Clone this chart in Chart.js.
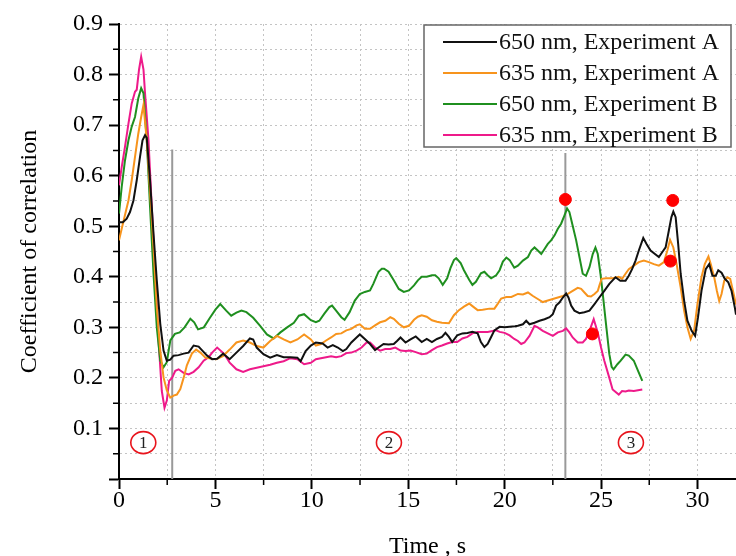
<!DOCTYPE html>
<html>
<head>
<meta charset="utf-8">
<script src="https://cdn.jsdelivr.net/npm/chart.js@4.4.0/dist/chart.umd.min.js"></script>
<style>
  html, body { margin: 0; padding: 0; background: #fff; }
  #wrap { width: 736px; height: 556px; }
</style>
</head>
<body>
<div id="wrap"><canvas id="corrChart" width="736" height="556"></canvas></div>
<script>
// ================== DATA (time s, coefficient) ==================
const series650A = [[0,0.508],[0.2,0.508],[0.4,0.515],[0.57,0.528],[0.75,0.551],[0.92,0.591],[1.09,0.637],[1.22,0.67],[1.35,0.68],[1.44,0.675],[1.61,0.591],[1.79,0.485],[1.96,0.393],[2.14,0.307],[2.31,0.254],[2.48,0.234],[2.66,0.236],[2.83,0.244],[3.09,0.245],[3.35,0.248],[3.61,0.25],[3.87,0.264],[4.13,0.262],[4.3,0.255],[4.57,0.244],[4.83,0.237],[5.09,0.238],[5.4,0.248],[5.74,0.237],[6.09,0.25],[6.44,0.263],[6.79,0.278],[6.96,0.276],[7.14,0.26],[7.49,0.247],[7.84,0.24],[8.19,0.245],[8.54,0.241],[8.89,0.241],[9.25,0.24],[9.42,0.233],[9.68,0.253],[9.95,0.264],[10.21,0.27],[10.56,0.268],[10.82,0.26],[11.09,0.265],[11.35,0.26],[11.61,0.253],[11.79,0.257],[12.05,0.27],[12.32,0.28],[12.49,0.286],[12.75,0.277],[13.02,0.267],[13.28,0.255],[13.46,0.26],[13.72,0.267],[13.98,0.266],[14.25,0.267],[14.42,0.273],[14.6,0.28],[14.86,0.27],[15.12,0.276],[15.39,0.282],[15.7,0.271],[15.96,0.277],[16.23,0.271],[16.49,0.277],[16.75,0.281],[16.93,0.289],[17.11,0.281],[17.28,0.271],[17.54,0.284],[17.81,0.288],[18.07,0.289],[18.33,0.291],[18.6,0.288],[18.77,0.271],[18.95,0.261],[19.12,0.267],[19.3,0.281],[19.47,0.294],[19.74,0.301],[20.0,0.3],[20.26,0.301],[20.54,0.302],[20.69,0.303],[20.95,0.306],[21.12,0.313],[21.29,0.306],[21.55,0.309],[21.81,0.313],[22.07,0.316],[22.33,0.32],[22.5,0.326],[22.67,0.343],[22.84,0.349],[23.02,0.359],[23.19,0.367],[23.31,0.359],[23.45,0.343],[23.62,0.333],[23.88,0.328],[24.14,0.33],[24.4,0.333],[24.66,0.346],[24.91,0.359],[25.17,0.372],[25.43,0.386],[25.6,0.393],[25.75,0.399],[26.0,0.392],[26.27,0.392],[26.44,0.402],[26.61,0.415],[26.79,0.432],[26.96,0.452],[27.19,0.477],[27.36,0.465],[27.57,0.452],[27.83,0.444],[28.0,0.439],[28.18,0.449],[28.35,0.458],[28.52,0.492],[28.65,0.518],[28.75,0.529],[28.87,0.518],[29.0,0.465],[29.13,0.406],[29.31,0.353],[29.48,0.313],[29.7,0.293],[29.88,0.283],[30.03,0.32],[30.21,0.372],[30.43,0.415],[30.61,0.425],[30.78,0.402],[30.95,0.402],[31.08,0.413],[31.25,0.408],[31.42,0.396],[31.6,0.389],[31.77,0.372],[31.94,0.339],[32.0,0.325]];

const series635A = [[0,0.472],[0.14,0.495],[0.31,0.522],[0.49,0.551],[0.66,0.591],[0.83,0.637],[1.0,0.683],[1.15,0.716],[1.27,0.74],[1.44,0.67],[1.61,0.571],[1.79,0.459],[1.96,0.34],[2.14,0.254],[2.31,0.201],[2.48,0.175],[2.66,0.161],[2.83,0.165],[3.0,0.167],[3.18,0.178],[3.35,0.2],[3.52,0.225],[3.78,0.248],[4.0,0.256],[4.22,0.25],[4.48,0.24],[4.83,0.238],[5.04,0.237],[5.39,0.243],[5.74,0.256],[6.09,0.27],[6.44,0.274],[6.79,0.27],[7.14,0.263],[7.49,0.26],[7.84,0.273],[8.19,0.283],[8.54,0.276],[8.89,0.27],[9.25,0.276],[9.6,0.286],[9.95,0.276],[10.21,0.264],[10.47,0.267],[10.74,0.274],[11.0,0.28],[11.26,0.287],[11.53,0.288],[11.79,0.294],[12.05,0.297],[12.32,0.304],[12.49,0.306],[12.75,0.297],[13.02,0.297],[13.28,0.304],[13.54,0.31],[13.81,0.313],[14.07,0.32],[14.25,0.317],[14.51,0.307],[14.77,0.3],[15.04,0.303],[15.3,0.315],[15.5,0.321],[15.7,0.324],[15.96,0.321],[16.23,0.314],[16.49,0.311],[16.75,0.309],[17.11,0.308],[17.37,0.324],[17.63,0.334],[17.89,0.341],[18.16,0.347],[18.33,0.342],[18.6,0.334],[18.86,0.335],[19.21,0.337],[19.47,0.337],[19.65,0.347],[19.82,0.357],[20.09,0.36],[20.35,0.36],[20.69,0.366],[20.95,0.365],[21.21,0.369],[21.47,0.362],[21.72,0.356],[21.98,0.35],[22.24,0.353],[22.5,0.356],[22.76,0.359],[23.02,0.362],[23.28,0.366],[23.53,0.372],[23.79,0.378],[23.97,0.376],[24.14,0.369],[24.31,0.362],[24.48,0.361],[24.66,0.366],[24.83,0.372],[24.91,0.382],[25.03,0.396],[25.26,0.397],[25.6,0.397],[25.92,0.4],[26.09,0.396],[26.27,0.406],[26.44,0.415],[26.7,0.422],[26.96,0.429],[27.22,0.432],[27.48,0.429],[27.74,0.425],[28.0,0.422],[28.26,0.429],[28.44,0.452],[28.58,0.473],[28.75,0.458],[28.92,0.425],[29.13,0.379],[29.31,0.333],[29.48,0.3],[29.65,0.277],[29.83,0.294],[30.0,0.346],[30.21,0.399],[30.38,0.425],[30.57,0.44],[30.69,0.425],[30.87,0.399],[31.01,0.372],[31.13,0.352],[31.25,0.366],[31.39,0.392],[31.56,0.399],[31.7,0.396],[31.88,0.366],[32.0,0.345]];

const series650B = [[0,0.525],[0.14,0.578],[0.31,0.63],[0.49,0.67],[0.66,0.697],[0.83,0.716],[1.0,0.753],[1.15,0.773],[1.27,0.763],[1.44,0.67],[1.61,0.538],[1.79,0.406],[1.96,0.3],[2.14,0.234],[2.31,0.221],[2.48,0.231],[2.66,0.274],[2.9,0.287],[3.15,0.29],[3.4,0.3],[3.7,0.317],[3.9,0.31],[4.1,0.296],[4.4,0.3],[4.7,0.318],[5.0,0.335],[5.25,0.346],[5.56,0.333],[5.82,0.323],[6.09,0.329],[6.35,0.333],[6.61,0.33],[6.96,0.319],[7.32,0.303],[7.67,0.286],[8.02,0.278],[8.37,0.29],[8.72,0.3],[9.07,0.309],[9.33,0.323],[9.6,0.326],[9.95,0.314],[10.21,0.31],[10.39,0.313],[10.65,0.327],[10.91,0.34],[11.05,0.343],[11.26,0.333],[11.53,0.32],[11.7,0.315],[11.96,0.33],[12.23,0.353],[12.49,0.366],[12.75,0.37],[13.02,0.373],[13.19,0.386],[13.46,0.41],[13.63,0.416],[13.75,0.416],[13.98,0.41],[14.25,0.393],[14.51,0.376],[14.77,0.37],[15.04,0.373],[15.3,0.383],[15.5,0.393],[15.7,0.4],[15.96,0.4],[16.23,0.403],[16.4,0.403],[16.58,0.397],[16.79,0.384],[17.02,0.397],[17.19,0.417],[17.37,0.433],[17.49,0.437],[17.72,0.427],[17.89,0.413],[18.16,0.394],[18.33,0.384],[18.51,0.39],[18.77,0.407],[18.95,0.41],[19.12,0.403],[19.3,0.397],[19.56,0.403],[19.74,0.413],[19.91,0.43],[20.09,0.438],[20.26,0.433],[20.5,0.418],[20.69,0.422],[20.95,0.432],[21.21,0.439],[21.38,0.452],[21.55,0.458],[21.72,0.452],[21.9,0.445],[22.07,0.455],[22.24,0.465],[22.41,0.472],[22.59,0.482],[22.76,0.495],[22.93,0.505],[23.1,0.521],[23.24,0.535],[23.36,0.528],[23.53,0.501],[23.71,0.472],[23.88,0.439],[24.05,0.406],[24.22,0.402],[24.4,0.419],[24.57,0.445],[24.71,0.458],[24.83,0.445],[24.97,0.406],[25.09,0.366],[25.26,0.306],[25.43,0.247],[25.55,0.222],[25.65,0.217],[25.85,0.227],[26.02,0.234],[26.27,0.246],[26.44,0.244],[26.7,0.234],[26.92,0.214],[27.14,0.194]];

const series635B = [[0,0.581],[0.14,0.617],[0.31,0.657],[0.49,0.703],[0.66,0.743],[0.83,0.766],[0.92,0.77],[1.04,0.81],[1.15,0.835],[1.27,0.81],[1.35,0.763],[1.53,0.67],[1.7,0.538],[1.88,0.406],[2.05,0.274],[2.22,0.174],[2.36,0.141],[2.48,0.155],[2.6,0.194],[2.75,0.2],[2.92,0.214],[3.09,0.217],[3.35,0.21],[3.61,0.207],[3.87,0.212],[4.13,0.221],[4.39,0.234],[4.65,0.241],[4.83,0.25],[5.09,0.26],[5.47,0.247],[5.74,0.23],[6.09,0.217],[6.44,0.212],[6.79,0.217],[7.14,0.22],[7.49,0.223],[7.84,0.226],[8.19,0.23],[8.54,0.233],[8.89,0.239],[9.25,0.237],[9.6,0.227],[9.95,0.23],[10.21,0.237],[10.47,0.239],[10.74,0.241],[11.0,0.243],[11.26,0.241],[11.53,0.243],[11.79,0.249],[12.05,0.25],[12.32,0.254],[12.58,0.26],[12.84,0.27],[13.02,0.27],[13.28,0.26],[13.54,0.254],[13.81,0.257],[14.07,0.257],[14.33,0.26],[14.6,0.254],[14.86,0.253],[15.12,0.254],[15.39,0.251],[15.7,0.247],[15.96,0.248],[16.23,0.255],[16.49,0.261],[16.75,0.264],[17.02,0.268],[17.28,0.271],[17.54,0.271],[17.81,0.278],[18.07,0.281],[18.33,0.288],[18.6,0.291],[19.12,0.291],[19.56,0.294],[19.74,0.291],[20.0,0.289],[20.26,0.284],[20.5,0.277],[20.69,0.273],[20.86,0.267],[21.03,0.27],[21.29,0.283],[21.55,0.303],[21.72,0.3],[21.98,0.293],[22.24,0.288],[22.5,0.283],[22.76,0.29],[23.02,0.293],[23.19,0.298],[23.36,0.29],[23.53,0.28],[23.79,0.27],[24.05,0.27],[24.22,0.277],[24.4,0.293],[24.62,0.316],[24.83,0.29],[25.0,0.26],[25.17,0.234],[25.43,0.2],[25.6,0.177],[25.92,0.167],[26.09,0.174],[26.27,0.173],[26.44,0.175],[26.7,0.174],[27.14,0.177]];

// red marker points
const peakMarks = [[23.15,0.553],[24.55,0.287],[28.6,0.431],[28.72,0.551]];
// grey stage boundaries: [time, top value]
const stageBounds = [[2.76,0.652],[23.15,0.645]];
// circled stage numbers
const stageLabels = ['1','2','3'];
const stageTimes = [1.26, 14.0, 26.55];
const stageLevel = 0.072;

const seriesNames = ['650 nm, Experiment A','635 nm, Experiment A','650 nm, Experiment B','635 nm, Experiment B'];
const seriesColors = ['#111111','#f7941d','#1f8f1f','#ee1a8a'];
const seriesData = [series650A, series635A, series650B, series635B];

const serif = "'Liberation Serif', 'Times New Roman', serif";
Chart.defaults.font.family = serif;
Chart.defaults.color = '#000';

const toXY = (arr) => arr.map((p) => ({ x: p[0], y: p[1] }));
const isMajorX = (v) => Math.round(v * 10) % 50 === 0;
const isMajorY = (v) => Math.round(v * 100) % 10 === 0;

// ================== DATASETS ==================
const datasets = [];
seriesData.forEach((s, i) => {
  datasets.push({
    label: seriesNames[i],
    inLegend: true,
    data: toXY(s),
    borderColor: seriesColors[i],
    borderWidth: 2,
    pointRadius: 0,
    tension: 0,
    order: i + 1,
  });
});
stageBounds.forEach((b) => {
  datasets.push({
    label: 'bound',
    data: [{ x: b[0], y: 0 }, { x: b[0], y: b[1] }],
    borderColor: '#999999',
    borderWidth: 2,
    pointRadius: 0,
    order: 20,
  });
});
datasets.push({
  label: 'marks',
  data: toXY(peakMarks),
  showLine: false,
  pointRadius: 6,
  pointBackgroundColor: '#ff0000',
  pointBorderColor: '#ff0000',
  order: 0,
});

// ================== PLUGINS ==================
const minorTicks = {
  id: 'minorTicks',
  afterDraw(chart) {
    const { ctx, scales: { x, y } } = chart;
    ctx.save();
    ctx.strokeStyle = '#000';
    ctx.lineWidth = 1.5;
    ctx.beginPath();
    x.ticks.forEach((t) => {
      if (isMajorX(t.value)) return;
      const px = x.getPixelForValue(t.value);
      ctx.moveTo(px, x.top);
      ctx.lineTo(px, x.top + 6);
    });
    y.ticks.forEach((t) => {
      if (isMajorY(t.value)) return;
      const py = y.getPixelForValue(t.value);
      ctx.moveTo(y.right, py);
      ctx.lineTo(y.right - 6, py);
    });
    ctx.stroke();
    ctx.restore();
  },
};

const stageMarks = {
  id: 'stageMarks',
  afterDatasetsDraw(chart) {
    const { ctx, scales: { x, y } } = chart;
    ctx.save();
    stageLabels.forEach((lab, i) => {
      const cx = x.getPixelForValue(stageTimes[i]);
      const cy = y.getPixelForValue(stageLevel);
      ctx.beginPath();
      ctx.ellipse(cx, cy, 12.5, 11, 0, 0, Math.PI * 2);
      ctx.strokeStyle = '#e8141c';
      ctx.lineWidth = 1.6;
      ctx.stroke();
      ctx.fillStyle = '#222';
      ctx.font = '17px ' + serif;
      ctx.textAlign = 'center';
      ctx.textBaseline = 'middle';
      ctx.fillText(lab, cx, cy + 1);
    });
    ctx.restore();
  },
};

const legendBox = {
  id: 'legendBox',
  afterDraw(chart) {
    const ctx = chart.ctx;
    const items = chart.data.datasets.filter((d) => d.inLegend);
    ctx.save();
    ctx.fillStyle = '#fff';
    ctx.fillRect(424, 25, 307, 122);
    ctx.strokeStyle = '#666';
    ctx.lineWidth = 1.5;
    ctx.strokeRect(424, 25, 307, 122);
    ctx.font = '24px ' + serif;
    ctx.textBaseline = 'middle';
    ctx.textAlign = 'left';
    items.forEach((d, i) => {
      const ry = 42 + i * 31;
      ctx.strokeStyle = d.borderColor;
      ctx.lineWidth = 2;
      ctx.beginPath();
      ctx.moveTo(443, ry);
      ctx.lineTo(497, ry);
      ctx.stroke();
      ctx.fillStyle = '#111';
      ctx.fillText(d.label, 499, ry + 1);
    });
    ctx.restore();
  },
};

// ================== CHART ==================
const ctx = document.getElementById('corrChart').getContext('2d');
const corrChart = new Chart(ctx, {
  type: 'line',
  data: { datasets },
  options: {
    responsive: false,
    animation: false,
    events: [],
    layout: { autoPadding: false, padding: { top: 24, right: 0, left: 0, bottom: 0 } },
    plugins: {
      legend: { display: false },
      tooltip: { enabled: false },
    },
    scales: {
      x: {
        type: 'linear',
        min: 0,
        max: 32,
        afterFit: (scale) => {
          scale.height = 77;
          scale.paddingLeft = 0;
          scale.paddingRight = 0;
        },
        ticks: {
          stepSize: 2.5,
          includeBounds: false,
          autoSkip: false,
          maxRotation: 0,
          padding: -3,
          font: { size: 24 },
          callback: (v) => (isMajorX(v) ? String(Math.round(v)) : ''),
        },
        grid: {
          color: '#c4c4c4',
          lineWidth: 1,
          tickLength: 10,
          tickWidth: 2,
          tickColor: (c) => (c.tick && isMajorX(c.tick.value) ? '#000' : 'rgba(0,0,0,0)'),
        },
        border: { color: '#000', width: 2, dash: [2, 3] },
        title: {
          display: true,
          text: 'Time , s',
          font: { size: 24 },
          padding: { top: 0, bottom: -5 },
        },
      },
      y: {
        min: 0,
        max: 0.9,
        afterFit: (scale) => { scale.width = 119; },
        ticks: {
          stepSize: 0.05,
          autoSkip: false,
          padding: 6,
          font: { size: 24 },
          callback: (v) => {
            const k = Math.round(v * 100);
            return k % 10 === 0 && k > 0 ? (k / 100).toFixed(1) : '';
          },
        },
        grid: {
          color: '#c4c4c4',
          lineWidth: 1,
          tickLength: 10,
          tickWidth: 2,
          tickColor: (c) => (c.tick && isMajorY(c.tick.value) ? '#000' : 'rgba(0,0,0,0)'),
        },
        border: { color: '#000', width: 2, dash: [2, 3] },
        title: {
          display: true,
          text: 'Coefficient of correlation',
          font: { size: 24 },
          padding: { top: 15, bottom: 0 },
        },
      },
    },
  },
  plugins: [minorTicks, stageMarks, legendBox],
});
</script>
</body>
</html>
